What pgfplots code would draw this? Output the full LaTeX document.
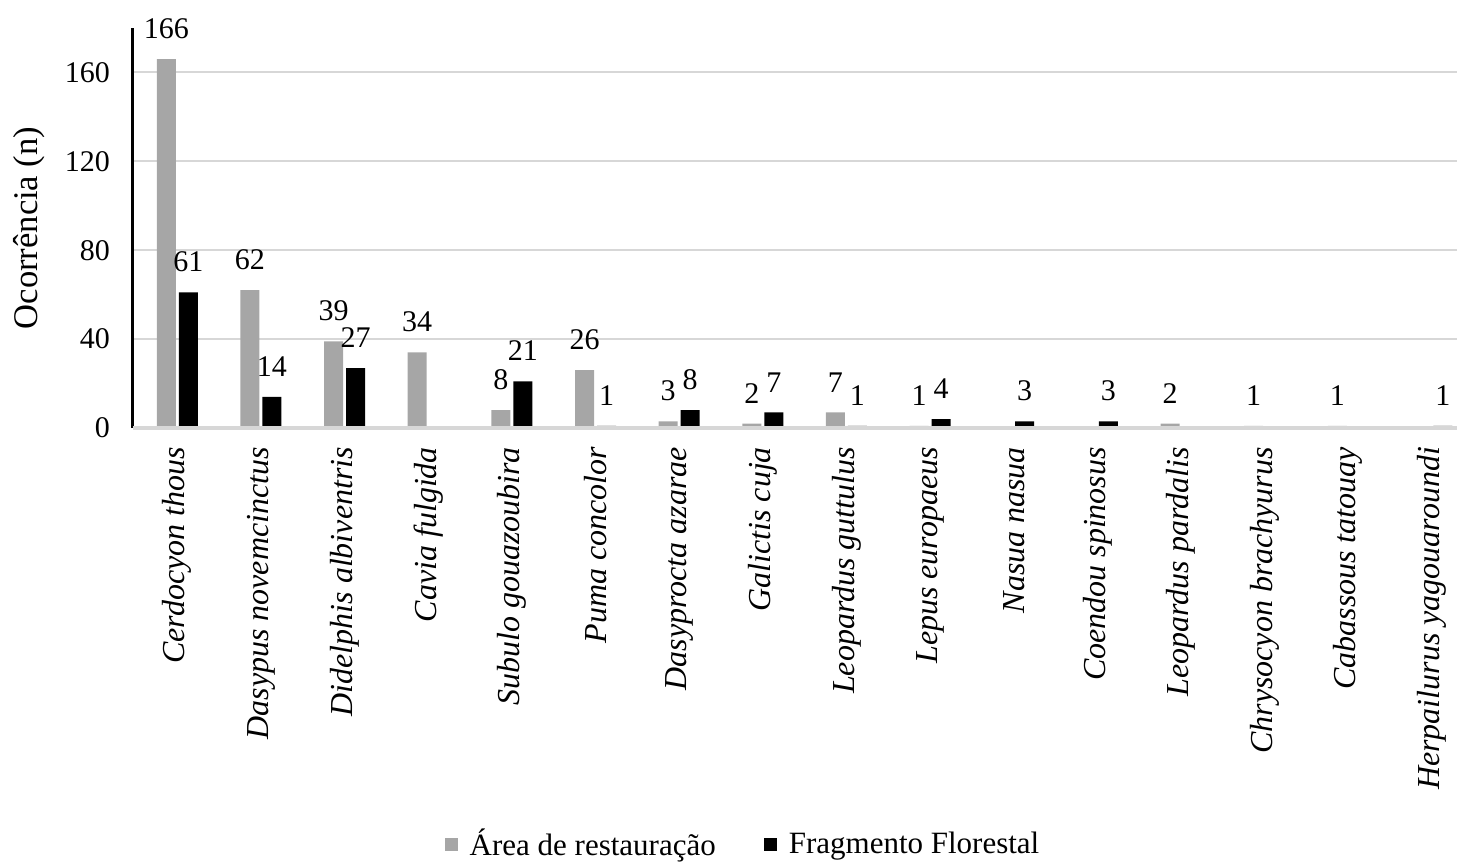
\documentclass[border=0pt]{standalone}
\usepackage{fontspec}
\setmainfont{Liberation Serif}
\usepackage{pgfplots}
\pgfplotsset{compat=1.18}
\definecolor{restgray}{RGB}{166,166,166}
\definecolor{gridgray}{RGB}{215,215,215}
\newcommand{\lblfont}{\fontsize{15}{18}\selectfont}

\begin{document}
\begin{tikzpicture}
\begin{axis}[
    scale only axis,
    width=662pt, height=200pt,
    xmin=-0.53, xmax=15.3,
    ymin=0, ymax=180,
    clip=false,
    ybar=1.5pt, bar width=9.5pt,
    ytick={0,40,80,120,160},
    xtick={0,...,15},
    xticklabels={Cerdocyon thous, Dasypus novemcinctus, Didelphis albiventris,
        Cavia fulgida, Subulo gouazoubira, Puma concolor, Dasyprocta azarae,
        Galictis cuja, Leopardus guttulus, Lepus europaeus, Nasua nasua,
        Coendou spinosus, Leopardus pardalis, Chrysocyon brachyurus,
        Cabassous tatouay, Herpailurus yagouaroundi},
    xticklabel style={rotate=90, anchor=east, font=\fontsize{16}{19}\selectfont\itshape},
    xticklabel shift=6pt,
    yticklabel style={font=\lblfont},
    yticklabel shift=8pt,
    /pgf/number format/assume math mode=true,
    major tick length=0pt,
    axis y line*=left,
    axis x line*=bottom,
    y axis line style={black, line width=1.5pt},
    x axis line style={gridgray, line width=1pt},
    ymajorgrids,
    grid style={gridgray, line width=1pt},
    ylabel={Ocorrência (n)},
    ylabel style={font=\fontsize{17.3}{20}\selectfont},
    ylabel shift=3pt,
    nodes near coords,
    every node near coord/.append style={font=\lblfont, inner sep=0pt, anchor=south, yshift=10pt},
    legend columns=2,
    legend style={at={(0.4615,-1.04)}, anchor=center, draw=none,
        font=\fontsize{15.5}{18}\selectfont,
        /tikz/every odd column/.append style={column sep=4pt},
        /tikz/every even column/.append style={column sep=22pt}},
    legend image code/.code={\fill (0pt,-3.25pt) rectangle (6.5pt,3.25pt);},
]
\addplot[fill=restgray, draw=none] coordinates {
    (0,166) (1,62) (2,39) (3,34) (4,8) (5,26) (6,3) (7,2) (8,7) (9,1)
    (12,2) (13,1) (14,1)
};
\addlegendentry{Área de restauração}
\addplot[fill=black, draw=none] coordinates {
    (0,61) (1,14) (2,27) (4,21) (5,1) (6,8) (7,7) (8,1) (9,4)
    (10,3) (11,3) (15,1)
};
\addlegendentry{Fragmento Florestal}
% baseline drawn over the bars, as in the original
\draw[gridgray, line width=1.6pt] (rel axis cs:0,0) -- (rel axis cs:1,0);
\coordinate (SW) at (rel axis cs:0,0);
\end{axis}
\pgfresetboundingbox
\path[use as bounding box] ([shift={(-66.5pt,-217pt)}]SW) rectangle ([shift={(662pt,214pt)}]SW);
\end{tikzpicture}
\end{document}
